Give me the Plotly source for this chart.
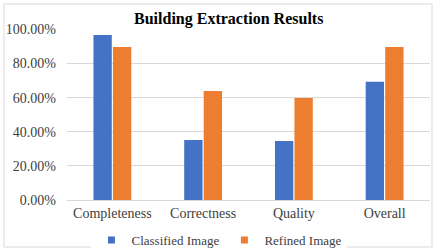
import plotly.graph_objects as go

categories = ["Completeness", "Correctness", "Quality", "Overall"]
classified = [0.967, 0.351, 0.346, 0.693]
refined = [0.897, 0.639, 0.598, 0.897]
series_names = ["Classified Image", "Refined Image"]
colors = ["#4472C4", "#ED7D31"]

fig = go.Figure()
for name, vals, c in zip(series_names, [classified, refined], colors):
    fig.add_trace(go.Bar(x=categories, y=vals, name=name, showlegend=False,
                         marker=dict(color=c, line=dict(width=0))))
# legend entries with small square swatches
for name, c in zip(series_names, colors):
    fig.add_trace(go.Scatter(x=[None], y=[None], mode="markers", name=name,
                             marker=dict(symbol="square", size=7, color=c)))

font = "Liberation Serif"
fig.update_layout(
    width=434, height=250,
    margin=dict(l=67, r=4, t=29, b=50, autoexpand=False),
    paper_bgcolor="white", plot_bgcolor="white",
    barmode="group", bargap=0.57, bargroupgap=0.06,
    font=dict(family=font, color="#404040", size=13),
    title=dict(text="<b>Building Extraction Results</b>", x=0.527, xanchor="center",
               y=1 - 18/250, yanchor="middle", font=dict(family=font, size=16, color="#000000")),
    legend=dict(orientation="h", x=0.42, xanchor="center", y=-0.234, yanchor="middle",
                font=dict(family=font, size=13, color="#404040"), itemwidth=30,
                tracegroupgap=0),
    showlegend=True,
)
fig.update_yaxes(range=[0, 1.002], dtick=0.2, tickformat=".2%", showgrid=True, gridcolor="#D9D9D9",
                 gridwidth=1, zeroline=False, showline=False, ticks="", ticklabelstandoff=10,
                 automargin=False, tickfont=dict(family=font, size=14, color="#404040"))
fig.update_xaxes(showline=True, linecolor="#D9D9D9", linewidth=1, ticks="", automargin=False,
                 tickfont=dict(family=font, size=14, color="#404040"))

fig.add_shape(type="rect", xref="paper", yref="paper",
              x0=(4-67)/363, x1=(432-67)/363, y0=(200-247)/171, y1=(200-4)/171,
              line=dict(color="#D9D9D9", width=1), fillcolor="rgba(0,0,0,0)", layer="below")

fig.write_html("out.html", config={"displayModeBar": False},
               post_script="document.body.style.margin='0';document.body.style.padding='0';")
